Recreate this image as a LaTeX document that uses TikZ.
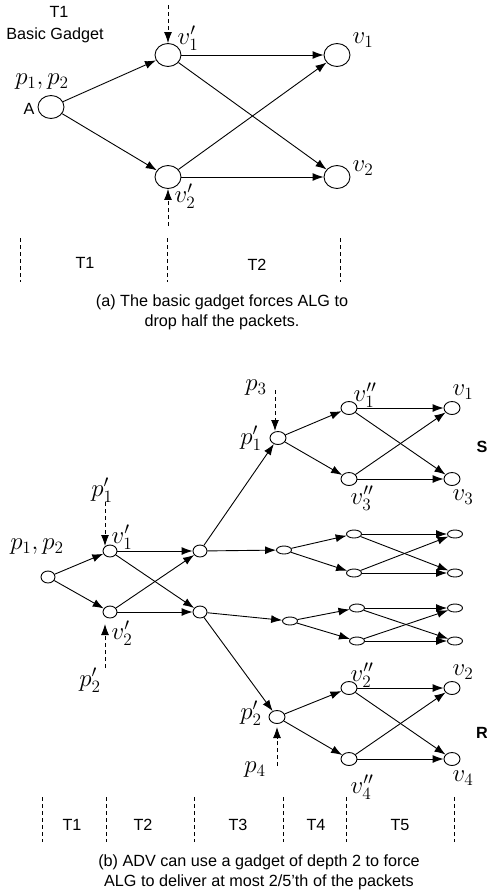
\documentclass[tikz,border=0pt]{standalone}
\usepackage{graphicx}
\usepackage{fontspec}
\setsansfont{Liberation Sans}
\usetikzlibrary{shapes.geometric,arrows.meta}
\newcommand\mlab[1]{\scalebox{1.2}{$#1$}}
\begin{document}
\begin{tikzpicture}[x=1pt,y=-1pt,
  nd/.style={draw,ellipse,inner sep=0pt,line width=0.9pt},
  big/.style={nd,minimum width=26pt,minimum height=23pt},
  mid/.style={nd,minimum width=16pt,minimum height=13pt},
  sml/.style={nd,minimum width=14pt,minimum height=12pt},
  flat/.style={nd,minimum width=15pt,minimum height=8pt},
  edge/.style={-{Latex[length=11pt,width=8pt]},line width=0.9pt},
  dsh/.style={line width=0.9pt,dash pattern=on 4pt off 3pt},
  dar/.style={dsh,-{Latex[length=11pt,width=8pt]}},
  ml/.style={font=\huge, inner sep=0pt},
  tl/.style={font=\sffamily\fontsize{16.2}{18}\selectfont, inner sep=0pt},
  bl/.style={font=\sffamily\bfseries\fontsize{16.2}{18}\selectfont, inner sep=0pt}]
\useasboundingbox (0,0) rectangle (487,894);

% ---------- (a) basic gadget ----------
\node[big] (A) at (51,107) {};
\node[big] (v1p) at (168,55) {};
\node[big] (v2p) at (168,177) {};
\node[big] (v1) at (337,55) {};
\node[big] (v2) at (337,177) {};
\draw[edge] (A) -- (v1p);
\draw[edge] (A) -- (v2p);
\draw[edge] (v1p) -- (v1);
\draw[edge] (v1p) -- (v2);
\draw[edge] (v2p) -- (v1);
\draw[edge] (v2p) -- (v2);
\coordinate (da1) at (168,5);
\coordinate (da2) at (168,226);
\draw[dar] (da1) -- (v1p);
\draw[dar] (da2) -- (v2p);

\node[tl] (tT1) at (59,12) {T1};
\node[tl] (tBG) at (55,35) {Basic Gadget};
\node[ml] (lpa) at (42,82) {\mlab{p_1,p_2}};
\node[tl] (lA) at (29,109) {A};
\node[ml] (lv1p) at (188,38) {\mlab{v_1'}};
\node[ml] (lv2p) at (185,196) {\mlab{v_2'}};
\node[ml] (lv1) at (363,40) {\mlab{v_1}};
\node[ml] (lv2) at (363,168) {\mlab{v_2}};

\foreach \x [count=\i] in {20,167,340} {
  \coordinate (ta\i) at (\x,238);
  \coordinate (tb\i) at (\x,282);
  \draw[dsh] (ta\i) -- (tb\i);
}
\node[tl] (aT1) at (85,263) {T1};
\node[tl] (aT2) at (257,265) {T2};
\node[tl] (capa1) at (222,302) {(a) The basic gadget forces ALG to};
\node[tl] (capa2) at (222,322) {drop half the packets.};

% ---------- (b) depth-2 gadget ----------
\node[sml] (B0) at (48,577) {};
\node[sml] (B1) at (110,551) {};
\node[sml] (B2) at (110,612) {};
\node[sml] (C1) at (200,551) {};
\node[sml] (C2) at (200,612) {};
\draw[edge] (B0) -- (B1);
\draw[edge] (B0) -- (B2);
\draw[edge] (B1) -- (C1);
\draw[edge] (B1) -- (C2);
\draw[edge] (B2) -- (C1);
\draw[edge] (B2) -- (C2);

% gadget S
\node[mid] (G1) at (278,438) {};
\node[mid] (G1a) at (349,408) {};
\node[mid] (G1b) at (349,479) {};
\node[mid] (G1c) at (452,408) {};
\node[mid] (G1d) at (452,479) {};
% gadget 2
\node[flat] (G2) at (284,550) {};
\node[flat] (G2a) at (354,534) {};
\node[flat] (G2b) at (354,573) {};
\node[flat] (G2c) at (455,534) {};
\node[flat] (G2d) at (455,573) {};
% gadget 3
\node[flat] (G3) at (290,621) {};
\node[flat] (G3a) at (357,608) {};
\node[flat] (G3b) at (357,641) {};
\node[flat] (G3c) at (455,608) {};
\node[flat] (G3d) at (455,641) {};
% gadget R
\node[mid] (G4) at (277,717) {};
\node[mid] (G4a) at (349,688) {};
\node[mid] (G4b) at (349,759) {};
\node[mid] (G4c) at (452,688) {};
\node[mid] (G4d) at (452,759) {};

\draw[edge] (C1) -- (G1);
\draw[edge] (C1) -- (G2);
\draw[edge] (C2) -- (G3);
\draw[edge] (C2) -- (G4);
\foreach \g in {G1,G2,G3,G4} {
  \draw[edge] (\g) -- (\g a);
  \draw[edge] (\g) -- (\g b);
  \draw[edge] (\g a) -- (\g c);
  \draw[edge] (\g a) -- (\g d);
  \draw[edge] (\g b) -- (\g c);
  \draw[edge] (\g b) -- (\g d);
}

\coordinate (db1) at (105,502);
\coordinate (db1e) at (105,546);
\coordinate (db2) at (105,668);
\coordinate (db2e) at (105,624);
\coordinate (db3) at (275,390);
\coordinate (db3e) at (275,431);
\coordinate (db4) at (277,766);
\coordinate (db4e) at (277,727);
\draw[dar] (db1) -- (db1e);
\draw[dar] (db2) -- (db2e);
\draw[dar] (db3) -- (db3e);
\draw[dar] (db4) -- (db4e);

\node[ml] (lb0) at (37,547) {\mlab{p_1,p_2}};
\node[ml] (lb1) at (102,490) {\mlab{p_1'}};
\node[ml] (lb2) at (122,537) {\mlab{v_1'}};
\node[ml] (lb3) at (122,633) {\mlab{v_2'}};
\node[ml] (lb4) at (90,680) {\mlab{p_2'}};
\node[ml] (lb5) at (256,388) {\mlab{p_3}};
\node[ml] (lb6) at (251,438) {\mlab{p_1'}};
\node[ml] (lb7) at (365,395) {\mlab{v_1''}};
\node[ml] (lb8) at (362,498) {\mlab{v_3''}};
\node[ml] (lb9) at (463,392) {\mlab{v_1}};
\node[ml] (lb10) at (463,497) {\mlab{v_3}};
\node[bl] (lS) at (482,447) {S};
\node[ml] (lb11) at (251,713) {\mlab{p_2'}};
\node[ml] (lb12) at (255,770) {\mlab{p_4}};
\node[ml] (lb13) at (362,675) {\mlab{v_2''}};
\node[ml] (lb14) at (362,787) {\mlab{v_4''}};
\node[ml] (lb15) at (463,672) {\mlab{v_2}};
\node[ml] (lb16) at (463,778) {\mlab{v_4}};
\node[bl] (lR) at (482,733) {R};

\foreach \x [count=\i] in {42,106,194,283,346,454} {
  \coordinate (sa\i) at (\x,797);
  \coordinate (sb\i) at (\x,842);
  \draw[dsh] (sa\i) -- (sb\i);
}
\node[tl] (bT1) at (72,825) {T1};
\node[tl] (bT2) at (143,825) {T2};
\node[tl] (bT3) at (238,825) {T3};
\node[tl] (bT4) at (316,825) {T4};
\node[tl] (bT5) at (400,825) {T5};
\node[tl] (capb1) at (259,862) {(b) ADV can use a gadget of depth 2 to force};
\node[tl] (capb2) at (259,882) {ALG to deliver at most 2/5'th of the packets};
\end{tikzpicture}
\end{document}
